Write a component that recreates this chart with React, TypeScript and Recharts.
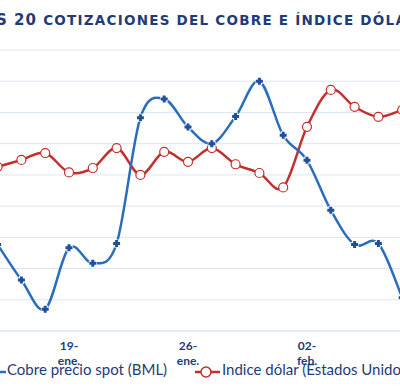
import { CartesianGrid, Line, LineChart, XAxis, YAxis } from 'recharts';

const fechas = [
  '16-ene.', '17-ene.', '18-ene.', '19-ene.', '22-ene.', '23-ene.', '24-ene.', '25-ene.', '26-ene.',
  '29-ene.', '30-ene.', '31-ene.', '01-feb.', '02-feb.', '05-feb.', '06-feb.', '07-feb.', '08-feb.',
];
const cobre = [
  308.3, 304.9, 302.1, 308.0, 306.5, 308.4, 320.5, 322.3, 319.6, 318.0, 320.6, 324.0, 318.8, 316.4,
  311.6, 308.3, 308.4, 303.2,
];
const dolar = [
  89.63, 89.74, 89.85, 89.54, 89.61, 89.93, 89.5, 89.87, 89.71, 89.93, 89.67, 89.53, 89.3, 90.27,
  90.86, 90.59, 90.43, 90.54,
];
const fechasVisibles = ['19-ene.', '26-ene.', '02-feb.'];
const ticksCobre = [300, 303, 306, 309, 312, 315, 318, 321, 324, 327];

const data = fechas.map((fecha, i) => ({ fecha, cobre: cobre[i], dolar: dolar[i] }));

const AZUL = '#2a6ebb';
const AZUL_OSC = '#1f4f9a';
const ROJO = '#c2302c';
const NAVY = '#1f3c78';
const GRID = '#dbe5f3';

// suavizado tipo Excel (Catmull-Rom uniforme)
function curvaSuave(context: any) {
  let pts: number[][] = [];
  return {
    areaStart() {},
    areaEnd() {},
    lineStart() {
      pts = [];
    },
    point(x: number, y: number) {
      pts.push([+x, +y]);
    },
    lineEnd() {
      if (!pts.length) return;
      context.moveTo(pts[0][0], pts[0][1]);
      for (let i = 0; i < pts.length - 1; i++) {
        const p0 = pts[i - 1] || pts[i];
        const p1 = pts[i];
        const p2 = pts[i + 1];
        const p3 = pts[i + 2] || p2;
        context.bezierCurveTo(
          p1[0] + (p2[0] - p0[0]) / 6,
          p1[1] + (p2[1] - p0[1]) / 6,
          p2[0] - (p3[0] - p1[0]) / 6,
          p2[1] - (p3[1] - p1[1]) / 6,
          p2[0],
          p2[1],
        );
      }
    },
  };
}

function MarcaCruz({ cx, cy }: any) {
  if (cx == null || cy == null) return null;
  return (
    <g>
      <path d={`M${cx - 4} ${cy}H${cx + 4}M${cx} ${cy - 4}V${cy + 4}`} stroke="#fff" strokeWidth={5} />
      <path d={`M${cx - 3.5} ${cy}H${cx + 3.5}M${cx} ${cy - 3.5}V${cy + 3.5}`} stroke={AZUL_OSC} strokeWidth={3} />
    </g>
  );
}

function MarcaCirculo({ cx, cy }: any) {
  if (cx == null || cy == null) return null;
  return <circle cx={cx} cy={cy} r={4.5} fill="#fff" stroke={ROJO} strokeWidth={1.2} />;
}

function TickFecha({ x, y, payload }: any) {
  const [dia, mes] = String(payload.value).split('-');
  return (
    <g>
      <text x={x} y={y + 19} textAnchor="middle" fill={NAVY} fontSize={12} fontWeight="bold" fontFamily="Lato">
        {dia}-
      </text>
      <text x={x} y={y + 34} textAnchor="middle" fill={NAVY} fontSize={12} fontWeight="bold" fontFamily="Lato">
        {mes}
      </text>
    </g>
  );
}

export default function App() {
  return (
    <div
      style={{
        position: 'fixed',
        left: 0,
        top: 0,
        width: 400,
        height: 392,
        overflow: 'hidden',
        background: '#fff',
        fontFamily: 'Lato',
      }}
    >
      <div
        style={{
          position: 'absolute',
          left: -4,
          top: 9,
          whiteSpace: 'nowrap',
          color: NAVY,
          fontFamily: 'DejaVu Sans',
          fontWeight: 'bold',
          lineHeight: '22px',
        }}
      >
        <span style={{ fontSize: 15, letterSpacing: 1 }}>S 20 </span>
        <span style={{ fontSize: 13.5, letterSpacing: 1.25 }}>COTIZACIONES DEL COBRE E ÍNDICE DÓLAR</span>
      </div>
      <div style={{ position: 'absolute', left: -30, top: 0 }}>
        <LineChart width={465} height={392} data={data} margin={{ top: 50, right: 32.8, left: 27.6, bottom: 21 }}>
          <CartesianGrid yAxisId="cobre" stroke={GRID} vertical={false} />
          <XAxis
            dataKey="fecha"
            ticks={fechasVisibles}
            interval={0}
            height={40}
            tickLine={false}
            tickSize={0}
            tickMargin={0}
            axisLine={{ stroke: GRID }}
            tick={<TickFecha />}
          />
          <YAxis yAxisId="cobre" hide domain={[300, 327]} ticks={ticksCobre} />
          <YAxis yAxisId="dolar" hide orientation="right" domain={[87, 91.5]} />
          <Line
            yAxisId="dolar"
            dataKey="dolar"
            type={curvaSuave as any}
            stroke={ROJO}
            strokeWidth={2.5}
            dot={<MarcaCirculo />}
            activeDot={false}
            isAnimationActive={false}
          />
          <Line
            yAxisId="cobre"
            dataKey="cobre"
            type={curvaSuave as any}
            stroke={AZUL}
            strokeWidth={2.5}
            dot={<MarcaCruz />}
            activeDot={false}
            isAnimationActive={false}
          />
        </LineChart>
      </div>
      <div style={{ position: 'absolute', left: 0, top: 363, width: 400, height: 24 }}>
        <svg width={400} height={24} style={{ position: 'absolute', left: 0, top: 0 }}>
          <line x1={-20} x2={6} y1={9} y2={9} stroke={AZUL} strokeWidth={2.5} />
          <line x1={195} x2={220} y1={9} y2={9} stroke={ROJO} strokeWidth={2.5} />
          <circle cx={206} cy={9} r={5} fill="#fff" stroke={ROJO} strokeWidth={1.5} />
        </svg>
        <span
          style={{ position: 'absolute', left: 7, top: -5, fontSize: 15, lineHeight: '22px', color: NAVY, whiteSpace: 'nowrap' }}
        >
          Cobre precio spot (BML)
        </span>
        <span
          style={{ position: 'absolute', left: 222, top: -5, fontSize: 15, lineHeight: '22px', color: NAVY, whiteSpace: 'nowrap' }}
        >
          Indice dólar (Estados Unidos)
        </span>
      </div>
    </div>
  );
}
